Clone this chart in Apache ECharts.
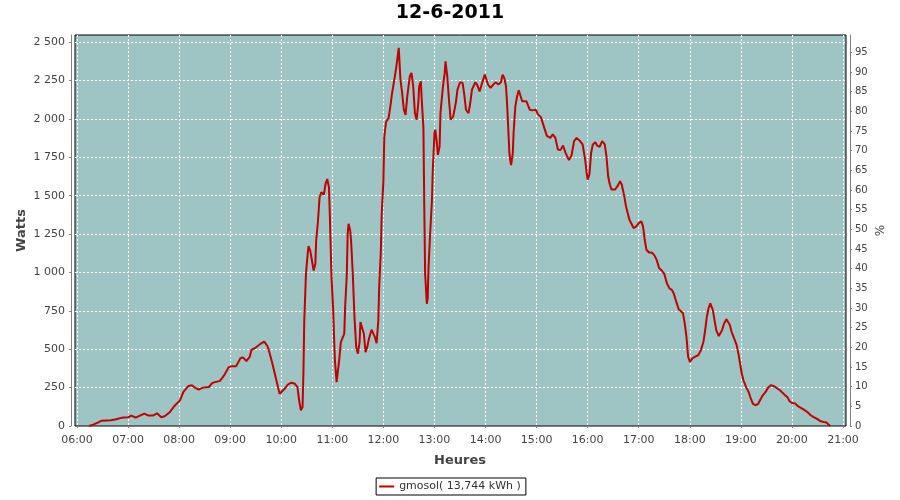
<!DOCTYPE html>
<html>
<head>
<meta charset="utf-8">
<script src="https://cdn.jsdelivr.net/npm/echarts@6/dist/echarts.min.js"></script>
<style>html,body{margin:0;padding:0;background:#fff}#c{width:900px;height:500px}</style>
</head>
<body>
<div id="c"></div>
<script>
const title = '12-6-2011';
const seriesName = 'gmosol( 13,744 kWh )';
const xName = 'Heures';
const yLeftName = 'Watts';
const yRightName = '%';
const times = ['06:14','06:19','06:25','06:29','06:40','06:46','06:52','07:00','07:04','07:09','07:14','07:19','07:24','07:29','07:34','07:39','07:43','07:49','07:55','08:01','08:05','08:11','08:15','08:19','08:23','08:28','08:35','08:39','08:48','08:53','08:58','09:02','09:07','09:12','09:15','09:19','09:23','09:25','09:30','09:35','09:40','09:44','09:46','09:49','09:52','09:55','09:58','10:00','10:04','10:08','10:12','10:16','10:19','10:21','10:23','10:25','10:26','10:27','10:29','10:31','10:32','10:34','10:36','10:38','10:40','10:41','10:43','10:45','10:47','10:50','10:52','10:54','10:56','10:57','10:59','11:01','11:02','11:03','11:05','11:07','11:08','11:10','11:12','11:14','11:15','11:17','11:18','11:19','11:21','11:22','11:24','11:26','11:28','11:30','11:32','11:33','11:35','11:37','11:39','11:41','11:43','11:46','11:48','11:50','11:52','11:54','11:55','11:57','11:58','12:00','12:01','12:03','12:06','12:08','12:10','12:12','12:15','12:18','12:19','12:20','12:22','12:24','12:26','12:28','12:31','12:33','12:35','12:37','12:39','12:41','12:42','12:44','12:45','12:47','12:48','12:49','12:51','12:52','12:53','12:55','12:57','12:58','13:00','13:01','13:03','13:04','13:06','13:07','13:10','13:12','13:13','13:15','13:17','13:19','13:22','13:25','13:27','13:30','13:33','13:35','13:37','13:40','13:42','13:44','13:48','13:50','13:53','13:56','13:59','14:01','14:03','14:06','14:09','14:12','14:15','14:18','14:20','14:22','14:24','14:25','14:26','14:28','14:29','14:30','14:32','14:33','14:35','14:37','14:39','14:41','14:43','14:45','14:48','14:49','14:52','14:55','14:59','15:02','15:05','15:08','15:12','15:16','15:19','15:22','15:25','15:28','15:31','15:34','15:38','15:41','15:44','15:47','15:51','15:54','15:57','15:59','16:00','16:02','16:04','16:06','16:09','16:11','16:14','16:17','16:20','16:22','16:24','16:26','16:28','16:32','16:35','16:38','16:40','16:43','16:45','16:47','16:49','16:52','16:54','16:57','17:00','17:03','17:05','17:07','17:09','17:12','17:15','17:18','17:21','17:24','17:27','17:30','17:33','17:36','17:39','17:41','17:44','17:47','17:49','17:52','17:54','17:56','17:58','18:00','18:03','18:06','18:10','18:13','18:16','18:18','18:20','18:22','18:24','18:27','18:29','18:31','18:34','18:36','18:38','18:40','18:43','18:45','18:47','18:49','18:52','18:55','18:57','18:59','19:01','19:03','19:06','19:09','19:11','19:14','19:17','19:20','19:22','19:25','19:29','19:32','19:35','19:39','19:43','19:46','19:49','19:52','19:55','19:57','20:00','20:04','20:07','20:10','20:14','20:18','20:22','20:25','20:29','20:33','20:37','20:40','20:42','20:45'];
const watts = [0,9,24,35,37,44,53,57,68,55,68,81,68,68,83,57,64,90,134,167,222,261,265,248,237,250,254,281,294,331,382,390,390,441,447,423,452,496,511,533,550,518,480,419,350,280,210,200,243,271,282,275,254,167,102,124,340,688,991,1121,1171,1143,1078,1013,1056,1208,1327,1490,1523,1507,1577,1609,1555,1382,970,753,579,427,286,297,427,547,557,601,774,991,1252,1317,1273,1208,991,709,514,471,547,677,666,601,481,514,568,627,623,579,540,688,904,1143,1382,1599,1881,1978,2006,2076,2162,2228,2333,2463,2452,2256,2169,2060,2027,2147,2278,2300,2213,2038,1995,2104,2213,2245,2126,1940,1428,992,796,828,1035,1264,1471,1668,1908,1929,1831,1766,1820,2038,2213,2300,2376,2278,2126,1995,2017,2104,2191,2239,2235,2158,2060,2038,2104,2191,2239,2224,2180,2235,2289,2278,2224,2202,2224,2239,2224,2239,2289,2267,2213,2126,2017,1777,1733,1700,1777,1918,2082,2147,2187,2180,2115,2108,2115,2121,2060,2056,2060,2027,2012,1960,1890,1877,1899,1877,1801,1797,1827,1779,1732,1762,1856,1877,1856,1834,1736,1638,1605,1638,1779,1834,1849,1827,1819,1856,1834,1758,1627,1573,1540,1540,1562,1594,1573,1496,1431,1387,1344,1311,1289,1300,1322,1333,1300,1213,1148,1130,1130,1115,1082,1028,1013,991,930,897,886,865,810,760,751,734,669,582,451,418,440,451,462,494,549,625,712,767,799,756,690,625,586,582,625,664,695,690,658,614,571,527,473,407,342,298,255,222,189,146,135,142,163,194,222,250,266,259,244,233,216,200,185,163,150,146,129,120,107,91,70,59,48,33,26,24,11,0];
const hourTicksMin = 6, hourTicksMax = 21;
const wattsMax = 2547, pctMax = 99.39;

function toHours(s){ const p = s.split(':'); return +p[0] + (+p[1])/60; }
const points = times.map((t,i) => [toHours(t), watts[i]]);
const F = 'DejaVu Sans';
const labelColor = '#444';
const axisGray = '#808080';

const chart = echarts.init(document.getElementById('c'), null, {renderer:'canvas'});
chart.setOption({
  animation: false,
  backgroundColor: '#fff',
  title: { text: title, left: 'center', top: 4, padding: 0,
    textStyle: { fontFamily: F, fontSize: 19, fontWeight: 'bold', color: '#000' } },
  legend: { data: [seriesName], left: 'center', top: 478, padding: [3,5,3,3],
    borderColor: '#000', borderWidth: 1, icon: 'rect', itemWidth: 15, itemHeight: 2, itemGap: 5,
    textStyle: { fontFamily: F, fontSize: 11, color: '#333' } },
  grid: [
    { left: 75, top: 35, width: 771, height: 391, show: true, backgroundColor: '#9FC4C4',
      borderColor: '#000', borderWidth: 1 },
    { left: 77, top: 35, width: 766, height: 391, show: false }
  ],
  xAxis: [
    { type: 'value', gridIndex: 0, min: 5.9608, max: 21.0578, show: false },
    { type: 'value', gridIndex: 1, min: hourTicksMin, max: hourTicksMax, interval: 1,
      position: 'bottom', offset: 4,
      name: xName, nameLocation: 'middle', nameGap: 24,
      nameTextStyle: { fontFamily: F, fontSize: 13, fontWeight: 'bold', color: labelColor },
      axisLine: { show: true, lineStyle: { color: axisGray, width: 1 } },
      axisTick: { show: true, length: 2, lineStyle: { color: axisGray } },
      axisLabel: { margin: 5, fontFamily: F, fontSize: 11, color: labelColor,
        formatter: v => (v < 10 ? '0' : '') + v + ':00' },
      splitLine: { show: true, lineStyle: { color: '#fff', width: 1, type: [2,2] } } }
  ],
  yAxis: [
    { type: 'value', gridIndex: 0, min: 0, max: wattsMax, interval: 250, position: 'left', offset: 4,
      name: yLeftName, nameLocation: 'middle', nameGap: 43, nameRotate: 90, nameMoveOverlap: false,
      nameTextStyle: { fontFamily: F, fontSize: 13, fontWeight: 'bold', color: labelColor },
      axisLine: { show: true, lineStyle: { color: axisGray, width: 1 } },
      axisTick: { show: true, length: 2, lineStyle: { color: axisGray } },
      axisLabel: { margin: 6, fontFamily: F, fontSize: 11, color: labelColor, showMaxLabel: false,
        formatter: v => (v % 250 === 0) ? String(v).replace(/\B(?=(\d{3})+(?!\d))/g, ' ') : '' },
      splitLine: { show: true, showMinLine: false, showMaxLine: false,
        lineStyle: { color: '#fff', width: 1, type: [2,2] } } },
    { type: 'value', gridIndex: 0, min: 0, max: pctMax, interval: 5, position: 'right', offset: 4,
      name: yRightName, nameLocation: 'middle', nameGap: 25, nameRotate: 90, nameMoveOverlap: false,
      nameTextStyle: { fontFamily: F, fontSize: 12, color: labelColor },
      axisLine: { show: true, lineStyle: { color: axisGray, width: 1 } },
      axisTick: { show: true, length: 2, lineStyle: { color: axisGray } },
      axisLabel: { margin: 5, fontFamily: F, fontSize: 10, color: labelColor, showMaxLabel: false,
        formatter: v => (v % 5 === 0) ? String(v) : '' },
      splitLine: { show: false } },
    { type: 'value', gridIndex: 1, min: 0, max: wattsMax, show: false }
  ],
  series: [
    { name: seriesName, type: 'line', xAxisIndex: 0, yAxisIndex: 0, data: points,
      showSymbol: false, symbol: 'none', color: '#C00000',
      lineStyle: { color: '#C00000', width: 2 } }
  ]
});
</script>
</body>
</html>
